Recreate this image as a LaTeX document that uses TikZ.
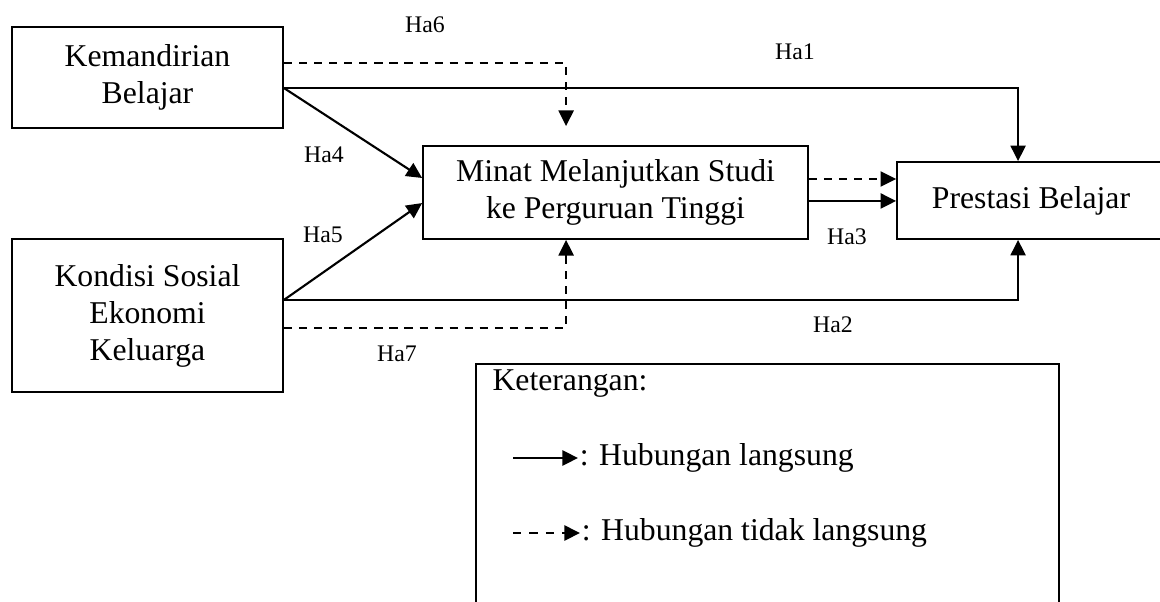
\documentclass[tikz,border=0pt]{standalone}
\usepackage{fontspec}
\setmainfont{Liberation Serif}
\usetikzlibrary{arrows.meta}
\usetikzlibrary{positioning}
\tikzset{var/.style={draw=black, line width=0.7pt, align=center, inner sep=0pt, font=\fontsize{12}{14}\selectfont}}
\tikzset{direct/.style={line width=0.8pt, -{Triangle[length=5.9pt, width=5.7pt]}}}
\tikzset{indirect/.style={direct, dash pattern=on 3.1pt off 2.6pt}}
\tikzset{hlabel/.style={font=\fontsize{9}{10}\selectfont, inner sep=0pt}}
\tikzset{legtext/.style={font=\fontsize{12}{14}\selectfont, inner sep=0pt}}

\begin{document}
\begin{tikzpicture}[x=0.3785pt, y=-0.3785pt]
  \useasboundingbox (0,0) rectangle (1160,602);
  \clip (0,0) rectangle (1160,602);

  \node[var, minimum width=102.6pt, minimum height=38.2pt] (kem) at (147.5,77.5) {Kemandirian\\Belajar};
  \node[var, minimum width=102.6pt, minimum height=57.9pt] (kon) at (147.5,315.5) {Kondisi Sosial\\Ekonomi\\Keluarga};
  \node[var, minimum width=145.7pt, minimum height=35.2pt] (min) at (615.5,192.5) {Minat Melanjutkan Studi\\ke Perguruan Tinggi};
  \node[var, minimum width=101.4pt, minimum height=29.1pt] (pres) at (1031,200.5) {Prestasi Belajar};

  % direct paths
  \draw[direct] ([yshift=-4pt]kem.east) -| ([xshift=-4.9pt]pres.north);
  \draw[direct] ([yshift=-4pt]kem.east) -- ([yshift=5.5pt]min.west);
  \draw[direct] ([yshift=5.9pt]kon.east) -- ([yshift=-4pt]min.west);
  \draw[direct] ([yshift=5.9pt]kon.east) -| ([xshift=-4.9pt]pres.south);
  \draw[direct] ([yshift=-3.2pt]min.east) -- ([yshift=-3.2pt]min.east -| pres.west);

  % indirect paths
  \draw[indirect] ([yshift=5.5pt]kem.east) -| ([xshift=-18.7pt, yshift=7.2pt]min.north);
  \draw[indirect] ([yshift=-4.7pt]kon.east) -| ([xshift=-18.7pt]min.south);
  \draw[indirect] ([yshift=5.1pt]min.east) -- ([yshift=5.1pt]min.east -| pres.west);

  \node[hlabel] (ha1) at (795,52) {Ha1};
  \node[hlabel] (ha2) at (833,325) {Ha2};
  \node[hlabel] (ha3) at (847,237) {Ha3};
  \node[hlabel] (ha4) at (324,155) {Ha4};
  \node[hlabel] (ha5) at (323,235) {Ha5};
  \node[hlabel] (ha6) at (425,25) {Ha6};
  \node[hlabel] (ha7) at (397,354) {Ha7};

  % keterangan
  \node[draw=black, line width=0.9pt, minimum width=220.7pt, minimum height=104.5pt] (ket) at (767.5,502) {};
  \node[legtext, anchor=west] (kettitle) at (492,384) {Keterangan:};
  \coordinate (l1s) at (513,458);
  \coordinate (l1e) at (578,458);
  \coordinate (l2s) at (513,533);
  \coordinate (l2e) at (580,533);
  \draw[direct, line width=0.9pt] (l1s) -- (l1e);
  \draw[indirect, dash pattern=on 3.2pt off 3pt] (l2s) -- (l2e);
  \node[legtext, right=0.5pt of l1e] (l1t) {: Hubungan langsung};
  \node[legtext, right=0.5pt of l2e] (l2t) {: Hubungan tidak langsung};
\end{tikzpicture}
\end{document}
